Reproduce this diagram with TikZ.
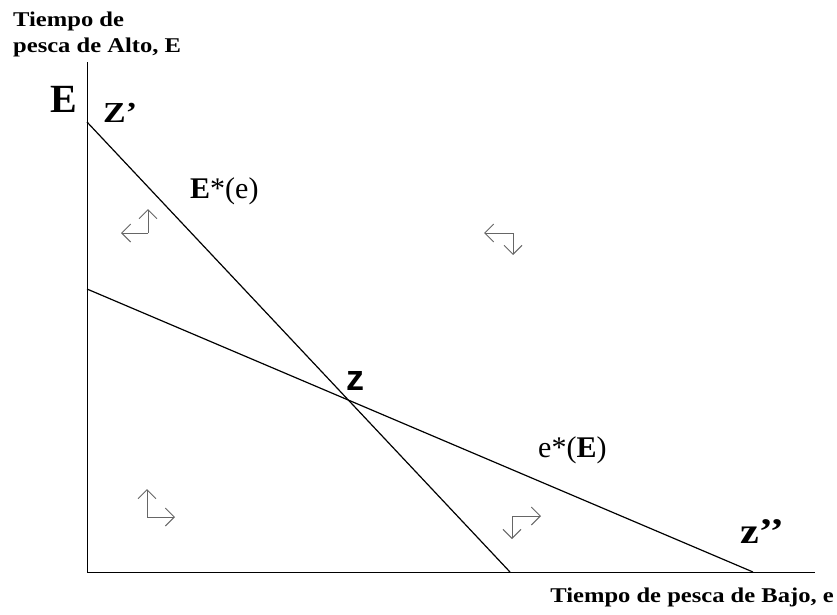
\documentclass[tikz,border=0pt]{standalone}
\usepackage{fontspec}
\setmainfont{Liberation Serif}
\newfontfamily\widefont[FakeStretch=1.17]{Liberation Serif}
\newfontfamily\plainsans{Liberation Sans}
\usetikzlibrary{arrows.meta}

\begin{document}
\begin{tikzpicture}[x=1pt,y=-1pt,
  axis/.style={black,line width=1pt},
  resp/.style={black,line width=1.2pt},
  flow/.style={black!60,line width=1pt,-{Straight Barb[length=9pt,width=18pt]}},
  axlabel/.style={font=\widefont\bfseries\fontsize{21}{26}\selectfont,inner sep=0pt},
  curvelabel/.style={font=\fontsize{30}{30}\selectfont,inner sep=0pt,anchor=base west},
  pointlabel/.style={inner sep=0pt,anchor=base west}]
  \useasboundingbox (0,0) rectangle (837,614);
  % axes
  \coordinate (O) at (87,572);
  \coordinate (Etop) at (87,62);
  \coordinate (eend) at (815,572);
  \draw[axis] (Etop) -- (O) -- (eend);
  % reaction curves
  \coordinate (Ea) at (87,122);
  \coordinate (Eb) at (510,572);
  \coordinate (ea) at (87,289);
  \coordinate (eb) at (753,572);
  \draw[resp] (Ea) -- (Eb);
  \draw[resp] (ea) -- (eb);
  % adjustment arrows
  \coordinate (nw) at (148,233);
  \coordinate (nwU) at (148,209);
  \coordinate (nwL) at (121,233);
  \draw[flow] (nw) -- (nwU);
  \draw[flow] (nw) -- (nwL);
  \coordinate (ne) at (513,233);
  \coordinate (neD) at (513,255);
  \coordinate (neL) at (484,233);
  \draw[flow] (ne) -- (neD);
  \draw[flow] (ne) -- (neL);
  \coordinate (sw) at (147,517);
  \coordinate (swU) at (147,489);
  \coordinate (swR) at (175,517);
  \draw[flow] (sw) -- (swU);
  \draw[flow] (sw) -- (swR);
  \coordinate (se) at (512,516);
  \coordinate (seD) at (512,539);
  \coordinate (seR) at (541,516);
  \draw[flow] (se) -- (seD);
  \draw[flow] (se) -- (seR);
  % labels
  \node[axlabel,align=left,anchor=north west] (ylab) at (13,12) {Tiempo de\\pesca de Alto, E};
  \node[axlabel,anchor=base east] (xlab) at (834,602) {Tiempo de pesca de Bajo, e};
  \node[pointlabel,font=\bfseries\fontsize{40}{40}\selectfont] (Elab) at (50,112) {E};
  \node[pointlabel,font=\widefont\bfseries\fontsize{29}{29}\selectfont] (zA) at (103,122) {Z’};
  \node[pointlabel,font=\plainsans\bfseries\fontsize{36}{36}\selectfont] (zC) at (346,390) {z};
  \node[pointlabel,font=\widefont\bfseries\fontsize{36}{36}\selectfont] (zB) at (740,543) {z’’};
  \node[curvelabel] (Elbl) at (190,198) {\textbf{E}*(e)};
  \node[curvelabel] (elbl) at (538,457) {e*(\textbf{E})};
\end{tikzpicture}
\end{document}
